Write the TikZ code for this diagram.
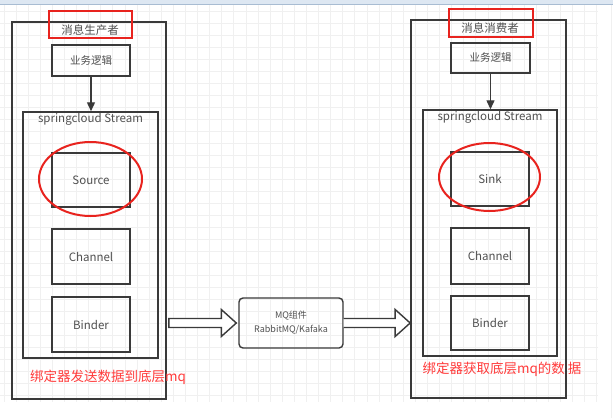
\documentclass[tikz,border=0pt]{standalone}
\usepackage{fontspec}
\setmainfont{Noto Sans CJK SC}
\usetikzlibrary{arrows.meta,calc}
\definecolor{boxline}{HTML}{3A3A3A}
\definecolor{txtgray}{HTML}{505050}
\definecolor{markred}{HTML}{E8231E}
\definecolor{notered}{HTML}{FF3B3B}
\definecolor{gridc}{HTML}{F0F0F0}
\definecolor{barfill}{HTML}{DDE7F2}
\definecolor{barline}{HTML}{A8BCD2}
\tikzset{
  outerbox/.style={draw=boxline, line width=1.7pt, minimum width=#1, inner sep=0pt},
  box/.style={draw=boxline, line width=1.5pt, inner sep=0pt, text=txtgray, font=\fontsize{11.5}{13}\selectfont},
  titlemark/.style={draw=markred, line width=2pt, inner sep=0pt},
  titletext/.style={font=\fontsize{11.5}{13}\selectfont, text=txtgray, inner sep=0pt},
  logic/.style={box, minimum width=78pt, minimum height=31pt, font=\fontsize{10.5}{12}\selectfont},
  part/.style={box, minimum width=78pt, minimum height=54pt},
  ring/.style={draw=markred, line width=2pt},
  note/.style={text=notered, font=\fontsize{13.5}{15}\selectfont, inner sep=0pt},
  downarrow/.style={draw=boxline, line width=1.4pt, -{Triangle[length=9pt,width=8pt]}},
  hollow/.style={draw=boxline, line width=1.4pt, fill=white, line join=miter},
  gridline/.style={draw=gridc, line width=0.8pt},
}
\begin{document}
\begin{tikzpicture}[x=1pt,y=-1pt]
\useasboundingbox (0,0) rectangle (613,418);
\fill[white] (0,0) rectangle (613,418);
% grid
\foreach \i in {0,...,49} { \draw[gridline] ({3.9+12.1*\i},4) -- ({3.9+12.1*\i},402); }
\foreach \j in {0,...,32} { \draw[gridline] (0,{11+12*\j}) -- (598,{11+12*\j}); }
\draw[draw=gridc, line width=1pt] (611,0) -- (611,418);
% top bar
\fill[barfill] (0,0) rectangle (613,4);
\draw[barline, line width=1pt] (0,4) -- (613,4);

% ---------- producer ----------
\node[outerbox=154pt, minimum height=377pt] (lo) at (89,210.5) {};
\node[titlemark, minimum width=83pt, minimum height=27pt] (lmark) at (90.5,24.5) {};
\node[titletext] (ltitle) at (90,30) {消息生产者};
\node[logic] (llogic) at (91,60.5) {业务逻辑};
\node[draw=boxline, line width=1.5pt, minimum width=135pt, minimum height=246pt, inner sep=0pt] (lstream) at (90.5,235) {};
\node[titletext] (lstreamlbl) at (90.5,119) {springcloud Stream};
\node[part] (source) at (91,180) {Source};
\node[part, minimum height=55pt] (lchannel) at (91,256.5) {Channel};
\node[part, minimum height=55pt] (lbinder) at (91,324.5) {Binder};
\draw[ring] (90.5,179) ellipse [x radius=51.5, y radius=37];
\node[note] (lnote) at (108,377) {绑定器发送数据到底层mq};
\draw[downarrow] (llogic.south) -- (llogic.south |- lstream.north);

% ---------- MQ ----------
\node[draw=boxline, line width=1.4pt, rounded corners=4pt, minimum width=104pt, minimum height=50pt, align=center, text=txtgray, font=\fontsize{9}{14}\selectfont, inner sep=0pt] (mq) at (291,323) {MQ组件\\RabbitMQ/Kafaka};

% ---------- consumer ----------
\node[outerbox=155pt, minimum height=378pt] (ro) at (488.5,209) {};
\node[titlemark, minimum width=84pt, minimum height=28pt] (rmark) at (491,23) {};
\node[titletext] (rtitle) at (490,28) {消息消费者};
\node[logic, minimum width=79pt, minimum height=30pt] (rlogic) at (490.5,58) {业务逻辑};
\node[draw=boxline, line width=1.5pt, minimum width=134pt, minimum height=246pt, inner sep=0pt] (rstream) at (490,233) {};
\node[titletext] (rstreamlbl) at (490,117) {springcloud Stream};
\node[part] (sink) at (490,179) {Sink};
\node[part, minimum height=56pt] (rchannel) at (490,256) {Channel};
\node[part] (rbinder) at (490,323) {Binder};
\draw[ring] (489.5,177) ellipse [x radius=50.5, y radius=34];
\node[note] (rnote) at (502,369) {绑定器获取底层mq的数 据};
\draw[downarrow] (rlogic.south) -- (rlogic.south |- rstream.north);

% ---------- hollow arrows ----------
\coordinate (a1s) at ($(lo.east |- mq.west)+(2,0)$);
\coordinate (a1t) at ($(mq.west)+(-2,0)$);
\draw[hollow] (a1s) ++(0,-4.5) -- ($(a1t)+(-15,-4.5)$) -- ($(a1t)+(-15,-13.5)$) -- (a1t)
  -- ($(a1t)+(-15,13.5)$) -- ($(a1t)+(-15,4.5)$) -- ($(a1s)+(0,4.5)$) -- cycle;
\coordinate (a2s) at (mq.east);
\coordinate (a2t) at (ro.west |- mq.east);
\draw[hollow] (a2s) ++(0,-4.5) -- ($(a2t)+(-15,-4.5)$) -- ($(a2t)+(-15,-13.5)$) -- (a2t)
  -- ($(a2t)+(-15,13.5)$) -- ($(a2t)+(-15,4.5)$) -- ($(a2s)+(0,4.5)$);
\end{tikzpicture}
\end{document}
